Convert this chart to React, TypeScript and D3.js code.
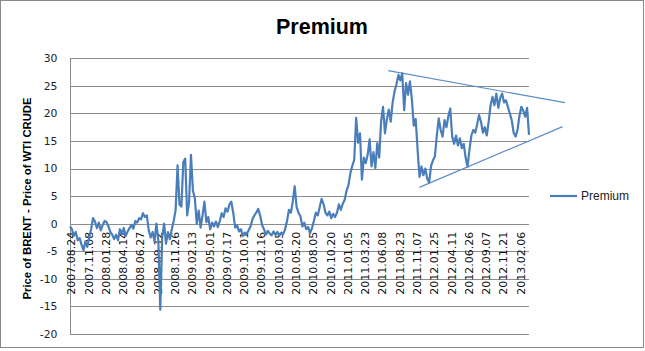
import * as d3 from 'd3';
import { type FC } from 'react';

// Category labels shown on the axis (one every 9 points)
const dateLabels = [
  '2007.08.24', '2007.11.08', '2008.01.28', '2008.04.14', '2008.06.27',
  '2008.09.12', '2008.11.26', '2009.02.13', '2009.05.01', '2009.07.17',
  '2009.10.01', '2009.12.16', '2010.03.05', '2010.05.20', '2010.08.05',
  '2010.10.20', '2011.01.05', '2011.03.23', '2011.06.08', '2011.08.23',
  '2011.11.07', '2012.01.25', '2012.04.11', '2012.06.26', '2012.09.07',
  '2012.11.21', '2013.02.06',
];
const labelStep = 9;

// Brent - WTI premium
const premium = [
  -0.5, -1.0, -2.2, -1.5, -3.0, -2.6, -3.8, -4.8, -3.2, -4.2,
  -2.5, -1.0, 1.0, 0.4, -0.8, 0.2, -1.2, -0.3, 0.5, 0.3,
  -0.5, -1.5, -2.0, -2.8, -2.0, -3.0, -1.0, -1.8, -0.8, -2.2,
  -1.4, -0.8, -0.2, -0.9, 0.5, 0.2, 1.0, 0.8, 1.9, 1.2,
  1.5, -1.2, -2.5, -1.5, -3.2, 0.0, -3.0, -15.6, -2.5, 0.0,
  -3.6, -1.5, -2.8, -1.0, 0.5, 2.5, 10.6, 3.5, 3.1, 11.2,
  11.8, 1.5, 3.9, 12.5, 6.0, 4.6, 0.0, 2.4, -0.7, 1.5,
  4.0, 0.3, 1.2, -1.0, 0.2, -0.5, 0.4, -0.6, 0.5, 1.9,
  1.2, 2.8, 2.2, 3.5, 4.0, 2.0, -0.7, -0.3, -1.4, -1.0,
  -2.2, -1.6, -1.8, -1.2, -0.5, 0.8, 1.5, 2.0, 2.7, 1.5,
  -0.2, -1.0, -2.0, -1.3, -1.8, -2.1, -1.4, -2.0, -1.5, -2.2,
  -1.6, -1.9, -1.0, 0.5, 2.5, 2.0, 4.0, 6.8, 3.0, 2.0,
  1.3, -0.5, 0.2, -1.0, -0.6, -1.7, -0.8, 0.5, 2.0, 1.5,
  3.0, 4.5, 3.6, 2.0, 1.5, 2.2, 1.0, 1.8, 1.2, 2.0,
  3.5, 2.5, 3.6, 4.3, 6.0, 7.0, 9.2, 10.5, 11.6, 19.2,
  14.7, 16.4, 8.0, 12.0, 11.0, 12.5, 15.3, 10.4, 13.0, 10.1,
  14.6, 12.0, 18.6, 21.2, 16.4, 19.0, 20.7, 18.5, 22.0, 24.0,
  25.3, 27.0, 26.0, 27.3, 20.6, 25.5, 23.4, 25.8, 22.6, 17.8,
  19.0, 13.4, 8.5, 10.4, 8.8, 10.0, 8.2, 7.4, 10.5, 11.5,
  12.2, 16.0, 19.1, 17.0, 15.8, 18.8, 17.5, 19.5, 20.9, 15.8,
  14.5, 16.0, 14.2, 15.5, 13.7, 14.5, 12.0, 10.3, 13.5, 16.0,
  17.0, 16.5, 18.0, 19.7, 18.5, 16.5, 17.5, 16.0, 18.5, 21.5,
  23.0, 21.5, 23.6, 21.0, 22.8, 23.6, 22.0, 22.4, 21.2, 20.0,
  18.8, 16.5, 15.8, 17.0, 19.5, 21.2, 20.5, 19.4, 21.0, 16.1,
];

// Hand-drawn triangle lines: [index, value] endpoints
const upperTrend: [number, number][] = [[165.7, 27.75], [257.7, 21.95]];
const lowerTrend: [number, number][] = [[181.9, 6.6], [256.5, 17.6]];

const yTicks = [30, 25, 20, 15, 10, 5, 0, -5, -10, -15, -20];

const W = 645;
const H = 351;
const plot = { left: 70, right: 529, top: 58.3, bottom: 334 };
const blue = '#4a7ebb';
const grid = '#8c8c8c';

const App: FC = () => {
  const x = d3
    .scaleLinear()
    .domain([0, premium.length - 1])
    .range([plot.left, plot.right]);
  const y = d3.scaleLinear().domain([-20, 30]).range([plot.bottom, plot.top]);

  const line = d3
    .line<number>()
    .x((_, i) => x(i))
    .y((d) => y(d));

  const trend = d3
    .line<[number, number]>()
    .x((d) => x(d[0]))
    .y((d) => y(d[1]));

  return (
    <div style={{ position: 'absolute', left: 0, top: 0 }}>
      <svg width={W} height={H} style={{ display: 'block', background: '#fff' }}>
        <rect x={0.5} y={0.5} width={643} height={347} fill="#fff" stroke="#8a8a8a" />

        <text
          x={322}
          y={34}
          textAnchor="middle"
          fontFamily="Liberation Sans, Arial, sans-serif"
          fontWeight="bold"
          fontSize={21.5}
        >
          Premium
        </text>

        {/* gridlines */}
        {yTicks.map((t) => (
          <line
            key={t}
            x1={plot.left}
            x2={plot.right}
            y1={Math.round(y(t)) + 0.5}
            y2={Math.round(y(t)) + 0.5}
            stroke={grid}
            strokeWidth={1}
          />
        ))}
        <line
          x1={plot.left + 0.5}
          x2={plot.left + 0.5}
          y1={plot.top}
          y2={plot.bottom}
          stroke={grid}
        />

        {/* y tick labels */}
        {yTicks.map((t) => (
          <text
            key={t}
            x={57.5}
            y={y(t)}
            dy="0.35em"
            textAnchor="end"
            fontFamily="DejaVu Sans, sans-serif"
            fontSize={10.8}
            fill="#222"
          >
            {t}
          </text>
        ))}

        <text
          transform={`translate(31,198.5) rotate(-90)`}
          textAnchor="middle"
          fontFamily="Liberation Sans, Arial, sans-serif"
          fontWeight="bold"
          fontSize={11.3}
        >
          Price of BRENT - Price of WTI CRUDE
        </text>

        {/* category labels */}
        {dateLabels.map((lab, k) => (
          <text
            key={lab}
            transform={`translate(${x(k * labelStep) + 1.5},${y(0) + 8}) rotate(-90)`}
            dy="0.35em"
            textAnchor="end"
            fontFamily="DejaVu Sans, sans-serif"
            fontSize={11}
            fill="#111"
          >
            {lab}
          </text>
        ))}

        <path
          d={line(premium) ?? ''}
          fill="none"
          stroke={blue}
          strokeWidth={2.2}
          strokeLinejoin="round"
        />

        <path d={trend(upperTrend) ?? ''} stroke="#5b8bc8" strokeWidth={1.2} fill="none" />
        <path d={trend(lowerTrend) ?? ''} stroke="#5b8bc8" strokeWidth={1.2} fill="none" />

        {/* legend */}
        <line x1={550} x2={577} y1={196} y2={196} stroke={blue} strokeWidth={2.2} />
        <text
          x={581}
          y={196}
          dy="0.35em"
          fontFamily="Liberation Sans, Arial, sans-serif"
          fontSize={12}
          fill="#222"
        >
          Premium
        </text>
      </svg>
    </div>
  );
};

export default App;
